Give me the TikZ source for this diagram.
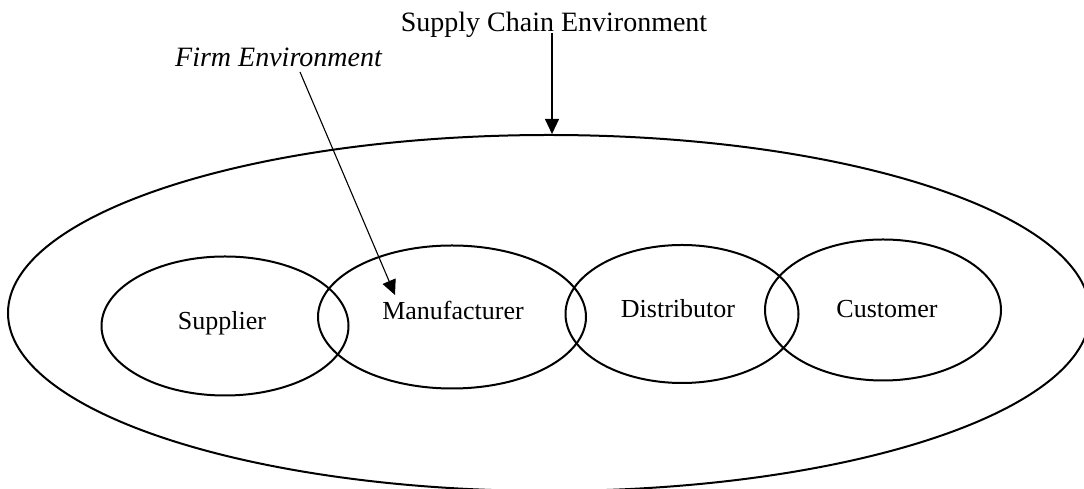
\documentclass[tikz,border=0pt]{standalone}
\usepackage{fontspec}
\setmainfont{Liberation Serif}
\usetikzlibrary{shapes.geometric,arrows.meta}
\begin{document}
\begin{tikzpicture}[x=1pt,y=1pt,
  ring/.style={draw, ellipse, line width=2pt, inner sep=0pt},
  lbl/.style={anchor=base, inner sep=0pt, font=\fontsize{26}{30}\selectfont},
  title/.style={inner sep=0pt, font=\fontsize{28}{32}\selectfont},
  pointer/.style={line width=1.1pt, -{Triangle[length=15pt,width=14pt]}}]
  \useasboundingbox (0,0) rectangle (1084,489);

  % outer supply chain ring and the four partners
  \node[ring, minimum width=1082pt, minimum height=356pt] (env) at (549,176) {};
  \node[ring, minimum width=247pt, minimum height=139pt] (sup) at (225,163) {};
  \node[ring, minimum width=268pt, minimum height=143pt] (man) at (452,172) {};
  \node[ring, minimum width=233pt, minimum height=138pt] (dis) at (682,175) {};
  \node[ring, minimum width=236pt, minimum height=141pt] (cus) at (883,179) {};

  \node[lbl] (tsup) at (222,159) {Supplier};
  \node[lbl] (tman) at (453,169) {Manufacturer};
  \node[lbl] (tdis) at (678,171) {Distributor};
  \node[lbl] (tcus) at (887,171) {Customer};

  % headings
  \node[title, anchor=base] (sce) at (554,457) {Supply Chain Environment};
  \node[title, anchor=base east] (fe) at (382,422) {\itshape Firm Environment};

  % pointers
  \coordinate (scefoot) at (552,456);
  \draw[pointer] (scefoot) -- (scefoot |- env.north);
  \coordinate (fefoot) at (300,417);
  \coordinate (fetip) at (395,194);
  \draw[pointer] (fefoot) -- (fetip);
\end{tikzpicture}
\end{document}
